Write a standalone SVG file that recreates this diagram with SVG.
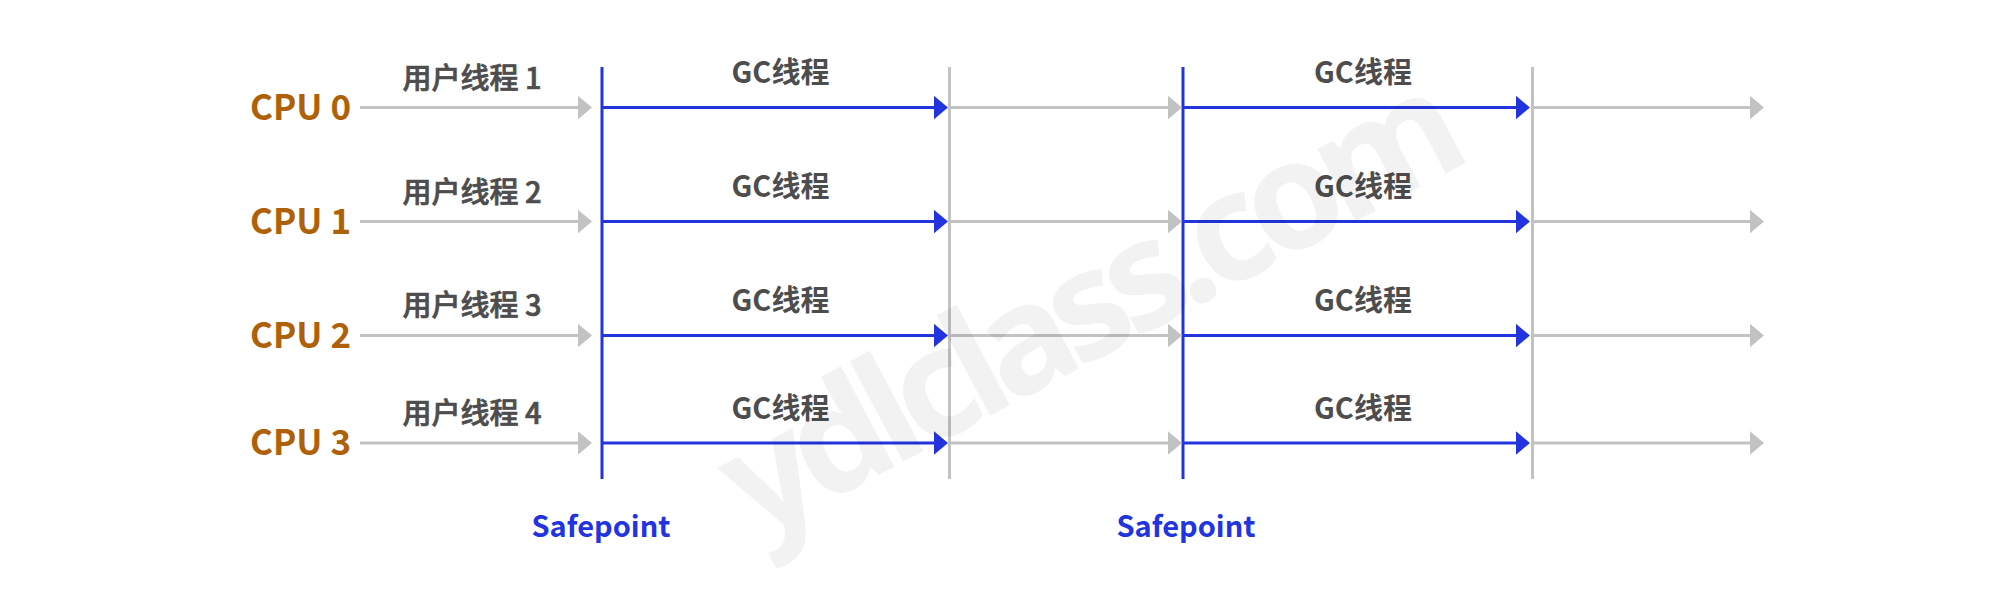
<svg xmlns="http://www.w3.org/2000/svg" width="2013" height="597" viewBox="0 0 2013 597">
  <style>
    .cpu { font-family: "Noto Sans CJK SC", "Noto Sans", sans-serif; font-size: 35px; font-weight: bold; fill: #AF6109; }
    .ut { font-family: "Noto Sans CJK SC", "Noto Sans", sans-serif; font-size: 29px; font-weight: 500; fill: #4D4D4D; stroke: #4D4D4D; stroke-width: 0.7px; text-anchor: middle; }
    .gc { font-family: "Noto Sans CJK SC", "Noto Sans", sans-serif; font-size: 29px; font-weight: bold; fill: #4D4D4D; text-anchor: middle; }
    .sp { font-family: "Noto Sans CJK SC", "Noto Sans", sans-serif; font-size: 29px; font-weight: bold; fill: #2234DE; text-anchor: middle; }
    .g { stroke: #C2C2C2; stroke-width: 3; fill: none; }
    .b { stroke: #2234DE; stroke-width: 3; fill: none; }
    .ga { stroke: #C2C2C2; stroke-width: 3; fill: none; marker-end: url(#hg); }
    .ba { stroke: #2234DE; stroke-width: 3; fill: none; marker-end: url(#hb); }
    .wm { font-family: "Noto Sans", "Liberation Sans", sans-serif; font-size: 150px; font-weight: bold; letter-spacing: -12px; fill: #000; fill-opacity: 0.05; text-anchor: middle; }
  </style>
  <defs>
    <marker id="hg" markerUnits="userSpaceOnUse" markerWidth="14" markerHeight="24" refX="2" refY="12" orient="auto">
      <path d="M0,0.3 L14,12 L0,23.7 z" fill="#C2C2C2"/>
    </marker>
    <marker id="hb" markerUnits="userSpaceOnUse" markerWidth="14" markerHeight="24" refX="2" refY="12" orient="auto">
      <path d="M0,0.3 L14,12 L0,23.7 z" fill="#2234DE"/>
    </marker>
  </defs>
  <rect width="2013" height="597" fill="#FFFFFF"/>

  <g id="cpu0"><text class="cpu" x="250" y="120">CPU 0</text></g>
  <g id="cpu1"><text class="cpu" x="250" y="234">CPU 1</text></g>
  <g id="cpu2"><text class="cpu" x="250" y="348">CPU 2</text></g>
  <g id="cpu3"><text class="cpu" x="250" y="455">CPU 3</text></g>

  <g id="safepoint1">
    <line class="b" x1="602" y1="67" x2="602" y2="479"/>
    <text class="sp" x="601" y="537">Safepoint</text>
  </g>
  <g id="barrier1"><line class="g" x1="949.5" y1="67" x2="949.5" y2="479"/></g>
  <g id="safepoint2">
    <line class="b" x1="1183" y1="67" x2="1183" y2="479"/>
    <text class="sp" x="1186" y="537">Safepoint</text>
  </g>
  <g id="barrier2"><line class="g" x1="1532.5" y1="67" x2="1532.5" y2="479"/></g>

  <g id="connectors">
    <line class="ga" x1="360" y1="107.5" x2="580" y2="107.5"/>
    <line class="ba" x1="602" y1="107.5" x2="936" y2="107.5"/>
    <line class="ga" x1="949" y1="107.5" x2="1170" y2="107.5"/>
    <line class="ba" x1="1183" y1="107.5" x2="1518" y2="107.5"/>
    <line class="ga" x1="1532" y1="107.5" x2="1752" y2="107.5"/>

    <line class="ga" x1="360" y1="221.5" x2="580" y2="221.5"/>
    <line class="ba" x1="602" y1="221.5" x2="936" y2="221.5"/>
    <line class="ga" x1="949" y1="221.5" x2="1170" y2="221.5"/>
    <line class="ba" x1="1183" y1="221.5" x2="1518" y2="221.5"/>
    <line class="ga" x1="1532" y1="221.5" x2="1752" y2="221.5"/>

    <line class="ga" x1="360" y1="335.5" x2="580" y2="335.5"/>
    <line class="ba" x1="602" y1="335.5" x2="936" y2="335.5"/>
    <line class="ga" x1="949" y1="335.5" x2="1170" y2="335.5"/>
    <line class="ba" x1="1183" y1="335.5" x2="1518" y2="335.5"/>
    <line class="ga" x1="1532" y1="335.5" x2="1752" y2="335.5"/>

    <line class="ga" x1="360" y1="443" x2="580" y2="443"/>
    <line class="ba" x1="602" y1="443" x2="936" y2="443"/>
    <line class="ga" x1="949" y1="443" x2="1170" y2="443"/>
    <line class="ba" x1="1183" y1="443" x2="1518" y2="443"/>
    <line class="ga" x1="1532" y1="443" x2="1752" y2="443"/>

    <text class="ut" x="472" y="88.5">用户线程 1</text>
    <text class="ut" x="472" y="202.5">用户线程 2</text>
    <text class="ut" x="472" y="316">用户线程 3</text>
    <text class="ut" x="472" y="423.5">用户线程 4</text>

    <text class="gc" x="780.5" y="83">GC线程</text>
    <text class="gc" x="780.5" y="197">GC线程</text>
    <text class="gc" x="780.5" y="311">GC线程</text>
    <text class="gc" x="780.5" y="418.5">GC线程</text>

    <text class="gc" x="1363" y="83">GC线程</text>
    <text class="gc" x="1363" y="197">GC线程</text>
    <text class="gc" x="1363" y="311">GC线程</text>
    <text class="gc" x="1363" y="418.5">GC线程</text>
  </g>

  <text class="wm" transform="translate(1110,352) rotate(-28)">ydlclass.com</text>
</svg>
